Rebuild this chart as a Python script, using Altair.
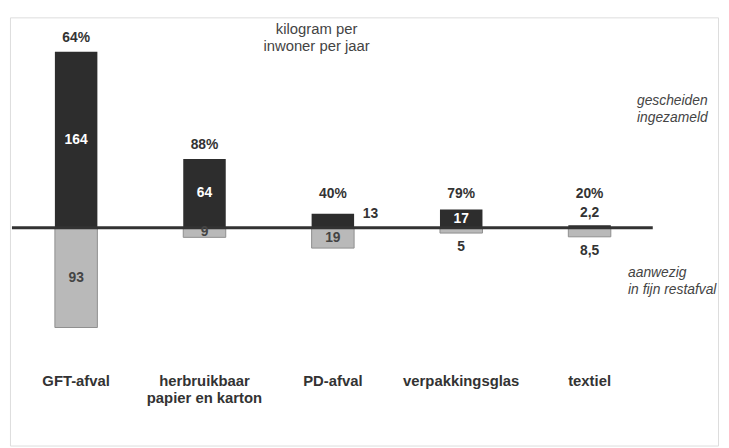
import altair as alt
import pandas as pd

# ---- data ----
categories = ["GFT-afval", "herbruikbaar\npapier en karton", "PD-afval", "verpakkingsglas", "textiel"]
collected = [164, 64, 13, 17, 2.2]          # gescheiden ingezameld (kg/inw/jaar)
residual = [93, 9, 19, 5, 8.5]              # aanwezig in fijn restafval
collected_labels = ["164", "64", "13", "17", "2,2"]
residual_labels = ["93", "9", "19", "5", "8,5"]
percent_labels = ["64%", "88%", "40%", "79%", "20%"]

unit_text = "kilogram per\ninwoner per jaar"
top_note = "gescheiden\ningezameld"
bottom_note = "aanwezig\nin fijn restafval"

FONT = "Liberation Sans"
DARK = "#2d2d2d"
LIGHT = "#b9b9b9"
TEXT = "#333333"

df = pd.DataFrame({
    "cat": categories,
    "col": collected,
    "res": residual,
    "col_lab": collected_labels,
    "res_lab": residual_labels,
    "pct": percent_labels,
})

xenc = alt.X("cat:N", sort=categories,
             scale=alt.Scale(range=[2, 651], paddingInner=0.669, paddingOuter=0.3345),
             axis=None)
yscale = alt.Scale(domain=[-203, 196], nice=False, zero=False)

base = alt.Chart(df).encode(x=xenc)

dark_bars = base.mark_bar(color=DARK).encode(
    y=alt.Y("col:Q", scale=yscale, axis=None), y2=alt.datum(0))

light_bars = base.transform_calculate(neg="-datum.res").mark_bar(
    color=LIGHT, stroke="#8f8f8f", strokeWidth=1).encode(
    y=alt.Y("neg:Q", scale=yscale, axis=None), y2=alt.datum(0))

baseline = alt.Chart(pd.DataFrame({"z": [0]})).mark_rule(
    color="#333333", strokeWidth=3).encode(
    y=alt.Y("z:Q", scale=yscale, axis=None), x=alt.value(2), x2=alt.value(650))

pct = base.transform_calculate(py="max(datum.col, 18)").mark_text(
    dy=-14, baseline="middle", fontSize=14, fontWeight="bold", color=TEXT, font=FONT).encode(
    y=alt.Y("py:Q", scale=yscale, axis=None), text="pct:N")

col_inside = base.transform_filter("datum.col >= 15").transform_calculate(
    half="datum.col / 2").mark_text(
    baseline="middle", fontSize=14, fontWeight="bold", color="white", font=FONT).encode(
    y=alt.Y("half:Q", scale=yscale, axis=None), text="col_lab:N")

col_right = base.transform_filter("datum.col >= 5 && datum.col < 15").mark_text(
    dx=38, dy=0, baseline="middle", fontSize=14, fontWeight="bold", color=TEXT, font=FONT).encode(
    y=alt.Y("col:Q", scale=yscale, axis=None), text="col_lab:N")

col_above = base.transform_filter("datum.col < 5").mark_text(
    dy=-12, baseline="middle", fontSize=14, fontWeight="bold", color=TEXT, font=FONT).encode(
    y=alt.Y("col:Q", scale=yscale, axis=None), text="col_lab:N")

res_inside = base.transform_filter("datum.res >= 9").transform_calculate(
    half="-datum.res / 2").mark_text(
    baseline="middle", fontSize=14, fontWeight="bold", color="#444444", font=FONT).encode(
    y=alt.Y("half:Q", scale=yscale, axis=None), text="res_lab:N")

res_below = base.transform_filter("datum.res < 9").transform_calculate(
    neg="-datum.res").mark_text(
    dy=14, baseline="middle", fontSize=14, fontWeight="bold", color=TEXT, font=FONT).encode(
    y=alt.Y("neg:Q", scale=yscale, axis=None), text="res_lab:N")

cat_labels = base.mark_text(
    lineBreak="\n", baseline="top", lineHeight=17, fontSize=15, fontWeight="bold",
    color=TEXT, font=FONT).encode(y=alt.value(361), text="cat:N")

unit = alt.Chart(pd.DataFrame({"t": [unit_text]})).mark_text(
    lineBreak="\n", baseline="top", align="center", lineHeight=17, fontSize=15,
    color="#444444", font=FONT).encode(text="t:N", x=alt.value(310), y=alt.value(5))

note_top = alt.Chart(pd.DataFrame({"t": [top_note]})).mark_text(
    lineBreak="\n", baseline="top", align="left", lineHeight=17, fontSize=14,
    fontStyle="italic", color="#444444", font=FONT).encode(
    text="t:N", x=alt.value(634), y=alt.value(78))

note_bottom = alt.Chart(pd.DataFrame({"t": [bottom_note]})).mark_text(
    lineBreak="\n", baseline="top", align="left", lineHeight=17, fontSize=14,
    fontStyle="italic", color="#444444", font=FONT).encode(
    text="t:N", x=alt.value(625), y=alt.value(252))

chart = alt.layer(
    dark_bars, light_bars, baseline, pct, col_inside, col_right, col_above,
    res_inside, res_below, cat_labels, unit, note_top, note_bottom
).properties(
    width=716, height=433,
    padding={"left": 2, "top": 7, "right": 3, "bottom": 0},
    autosize=alt.AutoSizeParams(type="none"),
).configure_view(stroke="#cfcfcf", strokeWidth=1.5).configure(background="white")

chart.save("out.html", embed_options={"renderer": "svg", "actions": False})
